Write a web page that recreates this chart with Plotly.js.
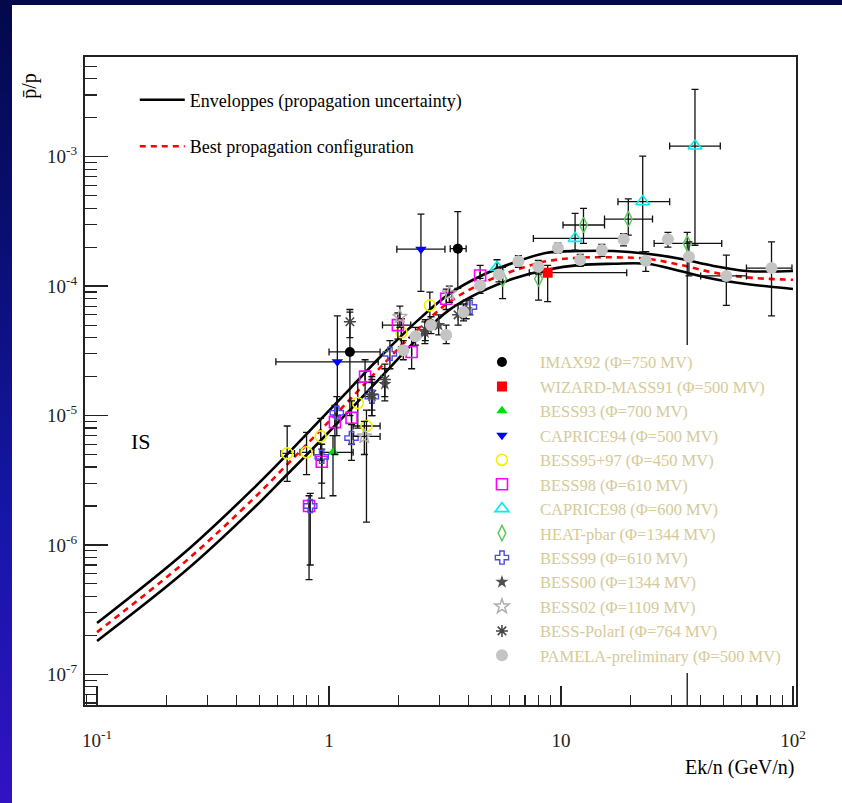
<!DOCTYPE html>
<html><head><meta charset="utf-8">
<script src="https://cdn.plot.ly/plotly-3.0.1.min.js"></script>
<style>
html,body{margin:0;padding:0;background:#fff;}
#wrap{position:relative;width:842px;height:803px;overflow:hidden;background:#fff;}
#chart{position:absolute;left:0;top:0;width:842px;height:803px;}
#leftbar{position:absolute;left:0;top:0;width:12px;height:803px;background:linear-gradient(to bottom,#03094a 0%,#0a0e72 30%,#1616a8 65%,#3212c2 100%);}
#topbar{position:absolute;left:0;top:0;width:842px;height:5px;background:#03094a;}
</style></head>
<body><div id="wrap"><div id="chart"></div><div id="leftbar"></div><div id="topbar"></div></div>
<script>
// ---- propagation curves ----
const curveE       = [0.1, 0.24, 0.47, 0.65, 0.89, 1.23, 1.71, 2.4, 3.3, 4.6, 6.2, 8.7, 12.1, 16.8, 23.5, 32.6, 45, 63, 100];
const envelopeHigh = [2.49e-7, 8.81e-7, 2.71e-6, 4.87e-6, 8.77e-6, 1.61e-5, 2.99e-5, 5.39e-5, 8.71e-5, 1.22e-4, 1.51e-4, 1.81e-4, 1.87e-4, 1.87e-4, 1.78e-4, 1.63e-4, 1.44e-4, 1.31e-4, 1.31e-4];
const envelopeLow  = [1.81e-7, 6.28e-7, 1.90e-6, 3.41e-6, 6.03e-6, 1.10e-5, 2.06e-5, 3.91e-5, 6.56e-5, 9.2e-5, 1.14e-4, 1.34e-4, 1.46e-4, 1.49e-4, 1.49e-4, 1.31e-4, 1.14e-4, 1.04e-4, 9.5e-5];
const bestConfig   = [2.12e-7, 7.43e-7, 2.26e-6, 4.07e-6, 7.27e-6, 1.33e-5, 2.48e-5, 4.59e-5, 7.55e-5, 1.06e-4, 1.31e-4, 1.56e-4, 1.66e-4, 1.67e-4, 1.63e-4, 1.46e-4, 1.28e-4, 1.17e-4, 1.12e-4];

// ---- axis ticks ----
const xTickVals = [0.1, 1, 10, 100];
const xTickText = ['10<sup>-1</sup>', '1', '10', '10<sup>2</sup>'];
const yTickVals = [1e-7, 1e-6, 1e-5, 1e-4, 1e-3];
const yTickText = ['10<sup>-7</sup>', '10<sup>-6</sup>', '10<sup>-5</sup>', '10<sup>-4</sup>', '10<sup>-3</sup>'];

// ---- data sets (E = Ek/n in GeV/n, y = pbar/p, lo/hi = error bar ends) ----
const imax92_E   = [1.23, 3.59];
const imax92_y   = [3.1e-5, 1.95e-4];
const imax92_lo  = [1.0e-5, 9.6e-5];
const imax92_hi  = [6.3e-5, 3.77e-4];
const imax92_Elo = [1.0, 3.33];
const imax92_Ehi = [1.66, 3.9];

const wizard_E   = [8.76];
const wizard_y   = [1.27e-4];
const wizard_lo  = [7.6e-5];
const wizard_hi  = [1.45e-4];
const wizard_Elo = [7.3];
const wizard_Ehi = [19.2];

const bess93_E   = [1.04];
const bess93_y   = [5.2e-6];
const bess93_lo  = [2.4e-6];
const bess93_hi  = [7.0e-6];
const bess93_Elo = [0.93];
const bess93_Ehi = [1.27];

const caprice94_E   = [1.086, 2.49];
const caprice94_y   = [2.6e-5, 1.93e-4];
const caprice94_lo  = [1.0e-5, 9.1e-5];
const caprice94_hi  = [5.9e-5, 3.6e-4];
const caprice94_Elo = [0.59, 1.96];
const caprice94_Ehi = [1.63, 3.16];

const bess9597_E   = [0.66, 0.80, 0.92, 1.33, 1.45, 2.05, 2.72];
const bess9597_y   = [5.1e-6, 5.2e-6, 6.9e-6, 1.25e-5, 8.3e-6, 4.4e-5, 7.1e-5];
const bess9597_lo  = [3.1e-6, 3.5e-6, 4.5e-6, 8.0e-6, 1.5e-6, 3.4e-5, 5.5e-5];
const bess9597_hi  = [8.3e-6, 7.4e-6, 9.5e-6, 1.8e-5, 1.1e-5, 5.6e-5, 9.0e-5];
const bess9597_Elo = [0.62, 0.75, null, null, 1.27, null, null];
const bess9597_Ehi = [0.71, 0.86, null, null, 1.66, null, null];

const bess98_E   = [0.82, 0.93, 1.06, 1.25, 1.43, 1.98, 2.27, 3.2, 4.48];
const bess98_y   = [2.0e-6, 4.4e-6, 8.9e-6, 9.6e-6, 2.0e-5, 5.0e-5, 3.1e-5, 8.0e-5, 1.21e-4];
const bess98_lo  = [5.4e-7, 2.3e-6, 5.0e-6, 6.0e-6, 1.4e-5, 3.9e-5, 2.3e-5, 6.6e-5, 1.0e-4];
const bess98_hi  = [2.4e-6, 5.5e-6, 1.2e-5, 1.3e-5, 2.7e-5, 6.2e-5, 4.0e-5, 9.5e-5, 1.45e-4];
const bess98_Elo = [null, null, null, null, null, 1.7, null, null, null];
const bess98_Ehi = [null, null, null, null, null, 2.25, null, null, null];

const caprice98_E   = [5.3, 11.5, 22.5, 37.8];
const caprice98_y   = [1.4e-4, 2.34e-4, 4.5e-4, 1.21e-3];
const caprice98_lo  = [1.2e-4, 1.9e-4, 1.84e-4, 2.07e-4];
const caprice98_hi  = [1.6e-4, 3.65e-4, 1.01e-3, 3.32e-3];
const caprice98_Elo = [null, 7.6, 17.6, 29.4];
const caprice98_Ehi = [null, 19.2, 29.4, 48.6];

const heat_E   = [5.6, 8.0, 12.5, 19.5, 35];
const heat_y   = [1.14e-4, 1.14e-4, 2.97e-4, 3.30e-4, 2.14e-4];
const heat_lo  = [8.0e-5, 7.8e-5, 2.14e-4, 2.48e-4, 1e-8];
const heat_hi  = [1.4e-4, 1.3e-4, 3.99e-4, 4.72e-4, 2.6e-4];
const heat_Elo = [null, null, 10.2, 15.4, 25.2];
const heat_Ehi = [null, null, 15.4, 24.8, 49.3];

const bess99_E   = [0.83, 0.93, 1.08, 1.25, 1.53, 1.83, 4.05];
const bess99_y   = [2.0e-6, 4.8e-6, 1.05e-5, 6.7e-6, 1.4e-5, 3.0e-5, 6.9e-5];
const bess99_lo  = [7.0e-7, 3.0e-6, 7.0e-6, 4.5e-6, 1.0e-5, 2.3e-5, 6.0e-5];
const bess99_hi  = [2.5e-6, 6.0e-6, 1.4e-5, 8.5e-6, 1.9e-5, 3.8e-5, 8.0e-5];

const bess00_E   = [1.53, 1.74, 2.59, 2.97, 3.9];
const bess00_y   = [1.42e-5, 1.75e-5, 4.4e-5, 5.0e-5, 6.6e-5];
const bess00_lo  = [1.1e-5, 1.3e-5, 3.6e-5, 4.2e-5, 5.6e-5];
const bess00_hi  = [1.8e-5, 2.3e-5, 5.3e-5, 6.0e-5, 7.8e-5];

const bess02_E   = [1.42, 2.02, 3.3];
const bess02_y   = [6.9e-6, 5.8e-5, 8.8e-5];
const bess02_lo  = [5.0e-6, 4.8e-5, 7.5e-5];
const bess02_hi  = [9.0e-6, 7.0e-5, 1.0e-4];
const bess02_Elo = [1.27, null, null];
const bess02_Ehi = [1.66, null, null];

const polar_E   = [1.23, 1.53, 1.74, 2.6, 3.6];
const polar_y   = [5.3e-5, 1.46e-5, 1.9e-5, 4.6e-5, 6.0e-5];
const polar_lo  = [4.0e-5, 1.0e-5, 1.4e-5, 3.8e-5, 5.0e-5];
const polar_hi  = [6.6e-5, 2.0e-5, 2.5e-5, 5.5e-5, 7.2e-5];

const pamela_E   = [2.09, 2.36, 2.75, 3.2, 3.8, 4.48, 5.4, 6.55, 7.98, 9.7, 12.1, 15.0, 18.6, 23.2, 28.9, 35.6, 51.6, 80.8];
const pamela_y   = [3.2e-5, 4.1e-5, 5.0e-5, 4.2e-5, 6.3e-5, 1.01e-4, 1.23e-4, 1.56e-4, 1.41e-4, 1.97e-4, 1.59e-4, 1.9e-4, 2.3e-4, 1.57e-4, 2.3e-4, 1.69e-4, 1.2e-4, 1.38e-4];
const pamela_lo  = [2.7e-5, 3.5e-5, 4.3e-5, 3.6e-5, 5.4e-5, 8.8e-5, 1.08e-4, 1.4e-4, 1.24e-4, 1.8e-4, 1.42e-4, 1.7e-4, 2.05e-4, 1.3e-4, 2.0e-4, 1.2e-4, 7.1e-5, 5.9e-5];
const pamela_hi  = [3.8e-5, 4.8e-5, 5.8e-5, 5.0e-5, 7.3e-5, 1.15e-4, 1.4e-4, 1.72e-4, 1.58e-4, 2.15e-4, 1.76e-4, 2.1e-4, 2.55e-4, 1.85e-4, 2.6e-4, 2.2e-4, 1.74e-4, 2.2e-4];
const pamela_Elo = [null, null, null, null, null, null, null, null, null, null, null, null, null, null, null, null, 40, 63];
const pamela_Ehi = [null, null, null, null, null, null, null, null, null, null, null, null, null, null, null, null, 63, 99];

// ---- helpers ----
function errBars(c, lo, hi) {
  return {
    type: 'data', symmetric: false, visible: true,
    array: c.map((v, i) => (hi == null || hi[i] == null) ? null : hi[i] - v),
    arrayminus: c.map((v, i) => (lo == null || lo[i] == null) ? null : v - lo[i]),
    color: '#111', thickness: 1.3, width: 3.5
  };
}
function series(name, E, y, lo, hi, Elo, Ehi, sym, size, color, lw) {
  const t = {
    type: 'scatter', mode: 'markers', name: name, x: E, y: y,
    legend: 'legend2', legendgroup: name,
    marker: { symbol: sym, size: size, color: color, line: { color: color, width: lw || 0 } },
    error_y: errBars(y, lo, hi)
  };
  if (Elo) t.error_x = errBars(E, Elo, Ehi);
  return t;
}

const traces = [
  { type: 'scatter', mode: 'lines', x: curveE, y: envelopeHigh, name: 'Enveloppes (propagation uncertainty)',
    legend: 'legend', legendgroup: 'env', line: { color: '#000', width: 2.6, shape: 'spline' } },
  { type: 'scatter', mode: 'lines', x: curveE, y: envelopeLow, name: 'Enveloppes low', showlegend: false,
    legend: 'legend', legendgroup: 'env', line: { color: '#000', width: 2.6, shape: 'spline' } },
  { type: 'scatter', mode: 'lines', x: curveE, y: bestConfig, name: 'Best propagation configuration',
    legend: 'legend', legendgroup: 'best', line: { color: '#ff0000', width: 2.6, dash: '6px,5px', shape: 'spline' } },
  series('IMAX92 (\u03A6=750 MV)', imax92_E, imax92_y, imax92_lo, imax92_hi, imax92_Elo, imax92_Ehi, 'circle', 10, '#000000'),
  series('WIZARD-MASS91 (\u03A6=500 MV)', wizard_E, wizard_y, wizard_lo, wizard_hi, wizard_Elo, wizard_Ehi, 'square', 10, '#ff0000'),
  series('BESS93 (\u03A6=700 MV)', bess93_E, bess93_y, bess93_lo, bess93_hi, bess93_Elo, bess93_Ehi, 'triangle-up', 10, '#00e000'),
  series('CAPRICE94 (\u03A6=500 MV)', caprice94_E, caprice94_y, caprice94_lo, caprice94_hi, caprice94_Elo, caprice94_Ehi, 'triangle-down', 10, '#0000ff'),
  series('BESS95+97 (\u03A6=450 MV)', bess9597_E, bess9597_y, bess9597_lo, bess9597_hi, bess9597_Elo, bess9597_Ehi, 'circle-open', 11, '#f2f200', 1.6),
  series('BESS98 (\u03A6=610 MV)', bess98_E, bess98_y, bess98_lo, bess98_hi, bess98_Elo, bess98_Ehi, 'square-open', 11, '#ff00ff', 1.6),
  series('CAPRICE98 (\u03A6=600 MV)', caprice98_E, caprice98_y, caprice98_lo, caprice98_hi, caprice98_Elo, caprice98_Ehi, 'triangle-up-open', 12, '#00eeee', 1.6),
  series('HEAT-pbar (\u03A6=1344 MV)', heat_E, heat_y, heat_lo, heat_hi, heat_Elo, heat_Ehi, 'diamond-tall-open', 11, '#5cc85c', 1.5),
  series('BESS99 (\u03A6=610 MV)', bess99_E, bess99_y, bess99_lo, bess99_hi, null, null, 'cross-open', 11, '#4a4ae6', 1.4),
  series('BESS00 (\u03A6=1344 MV)', bess00_E, bess00_y, bess00_lo, bess00_hi, null, null, 'star', 10, '#505050'),
  series('BESS02 (\u03A6=1109 MV)', bess02_E, bess02_y, bess02_lo, bess02_hi, bess02_Elo, bess02_Ehi, 'star-open', 11, '#b4acac', 1.4),
  series('BESS-PolarI (\u03A6=764 MV)', polar_E, polar_y, polar_lo, polar_hi, null, null, 'asterisk-open', 10, '#444444', 1.5),
  series('PAMELA-preliminary (\u03A6=500 MV)', pamela_E, pamela_y, pamela_lo, pamela_hi, pamela_Elo, pamela_Ehi, 'circle', 12, '#c4c4c4')
];

function minorTicks(lo, hi) {
  const out = [];
  for (let d = lo; d <= hi; d++) for (let k = 2; k <= 9; k++) out.push(k * Math.pow(10, d));
  return out;
}

const serif = '"Liberation Serif", "Times New Roman", serif';
const layout = {
  width: 842, height: 803,
  margin: { l: 85, r: 46, t: 57, b: 98 },
  paper_bgcolor: 'rgba(0,0,0,0)', plot_bgcolor: '#ffffff',
  font: { family: serif, color: '#000' },
  showlegend: true,
  xaxis: {
    type: 'log', range: [-1.052, 2.013],
    tickmode: 'array', tickvals: xTickVals, ticktext: xTickText,
    ticks: 'inside', ticklen: 19, tickwidth: 1.3, tickcolor: '#222',
    showline: true, linecolor: '#222', linewidth: 2, mirror: true,
    showgrid: false, zeroline: false,
    tickfont: { family: serif, size: 19, color: '#222' }, ticklabelstandoff: 17,
    minor: { tickmode: 'array', tickvals: minorTicks(-2, 1).filter(v => v > 0.0887 && v < 103), ticks: 'inside', ticklen: 10, tickwidth: 1.2, tickcolor: '#222', showgrid: false }
  },
  yaxis: {
    type: 'log', range: [-7.237, -2.229],
    tickmode: 'array', tickvals: yTickVals, ticktext: yTickText,
    ticks: 'inside', ticklen: 23, tickwidth: 1.3, tickcolor: '#222',
    showline: true, linecolor: '#222', linewidth: 2, mirror: true,
    showgrid: false, zeroline: false,
    tickfont: { family: serif, size: 19, color: '#222' }, ticklabelstandoff: 2,
    minor: { tickmode: 'array', tickvals: minorTicks(-8, -3).filter(v => v > 5.8e-8 && v < 5.9e-3), ticks: 'inside', ticklen: 12, tickwidth: 1.2, tickcolor: '#222', showgrid: false }
  },
  legend: {
    x: 0.07, y: 0.962, xanchor: 'left', yanchor: 'top',
    bgcolor: 'rgba(0,0,0,0)', borderwidth: 0,
    font: { family: serif, size: 18, color: '#000' },
    itemwidth: 45, traceorder: 'grouped', tracegroupgap: 20
  },
  legend2: {
    x: 0.533, y: 0.556, xanchor: 'left', yanchor: 'top',
    bgcolor: '#ffffff', borderwidth: 0,
    font: { family: serif, size: 16.5, color: '#d6ca98' },
    itemwidth: 66, traceorder: 'grouped', tracegroupgap: 0
  },
  annotations: [
    { text: 'IS', xref: 'paper', yref: 'paper', x: 0.0788, y: 0.4074, xanchor: 'center', yanchor: 'middle', showarrow: false,
      font: { family: serif, size: 22, color: '#000' } },
    { text: 'p\u0304/p', xref: 'paper', yref: 'paper', x: -0.078, y: 0.955, xanchor: 'center', yanchor: 'middle', textangle: -90, showarrow: false,
      font: { family: serif, size: 20, color: '#000' } },
    { text: 'Ek/n (GeV/n)', xref: 'paper', yref: 'paper', x: 1.0, y: -0.0972, xanchor: 'right', yanchor: 'middle', showarrow: false,
      font: { family: serif, size: 20, color: '#000' } }
  ]
};

Plotly.newPlot('chart', traces, layout, { displayModeBar: false, staticPlot: true });
</script>
</body></html>
